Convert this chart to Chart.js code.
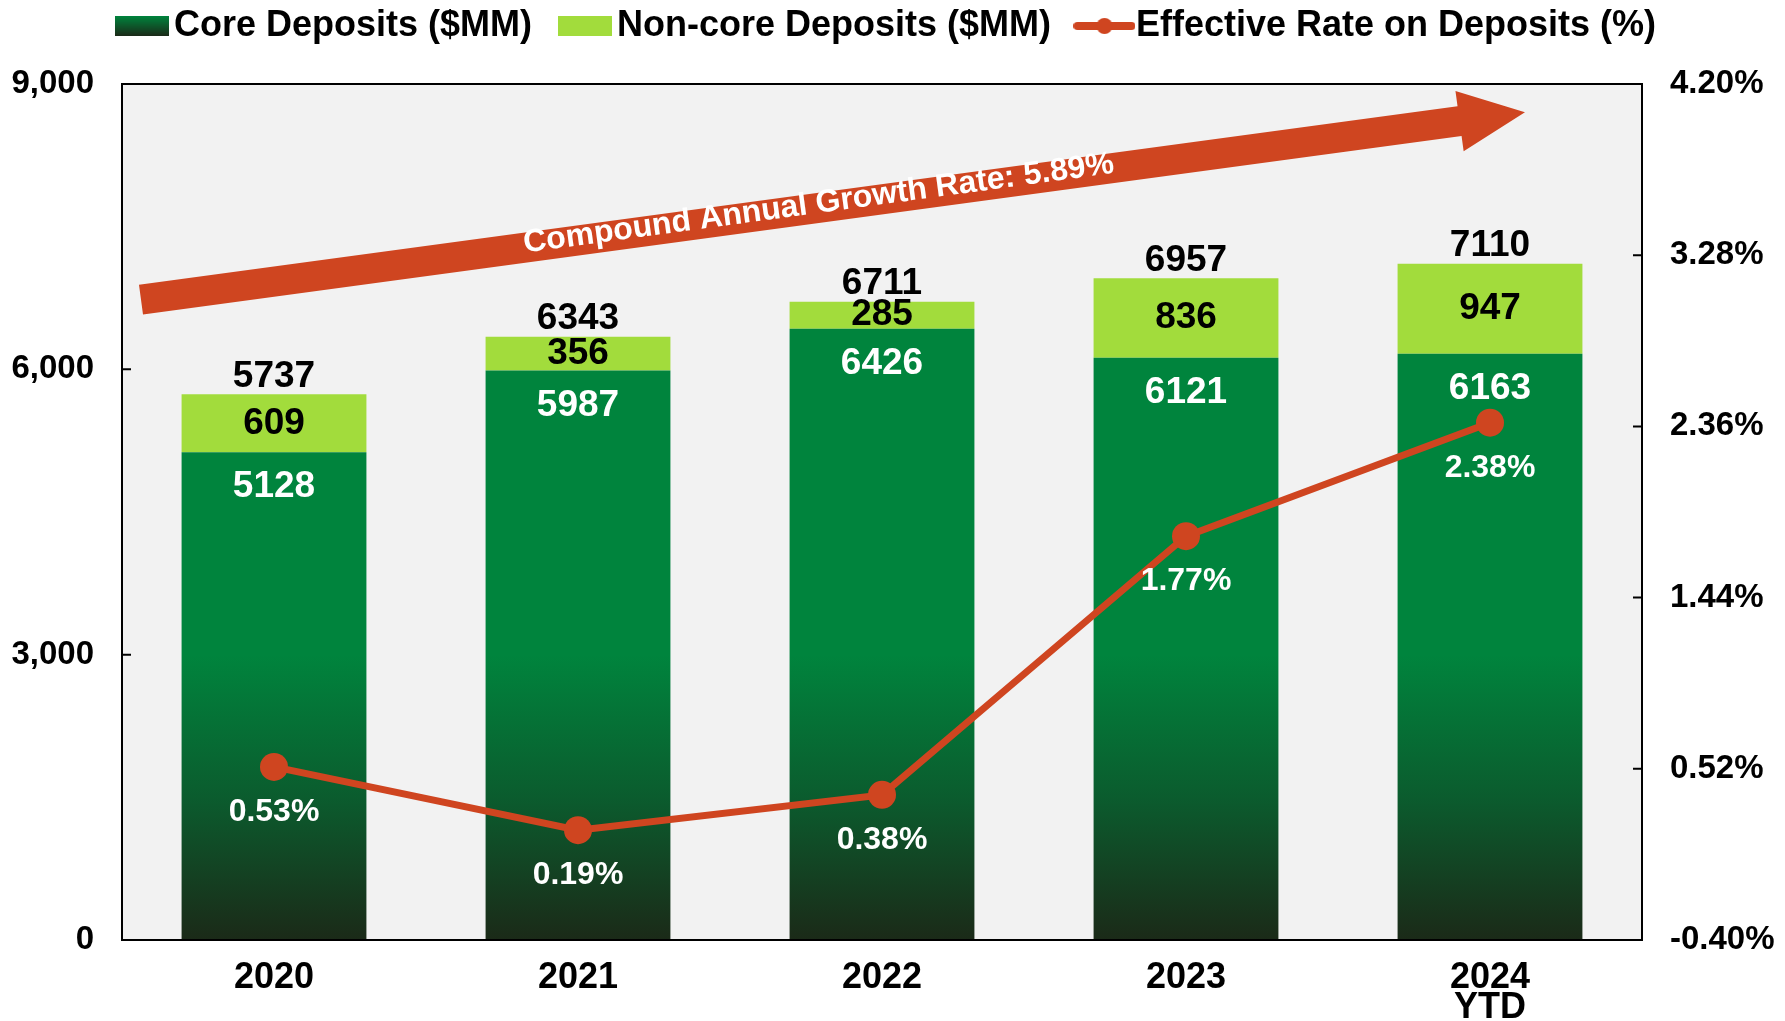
<!DOCTYPE html>
<html>
<head>
<meta charset="utf-8">
<script src="https://cdn.jsdelivr.net/npm/chart.js@4.4.1/dist/chart.umd.min.js"></script>
<style>
    html, body { margin: 0; padding: 0; background: #fff; }
    #wrap { width: 1785px; height: 1021px; }
</style>
</head>
<body>
<div id="wrap"><canvas id="depositChart" width="1785" height="1021"></canvas></div>
<script>
const years = ['2020', '2021', '2022', '2023', ['2024', 'YTD']];
const coreDeposits = [5128, 5987, 6426, 6121, 6163];
const nonCoreDeposits = [609, 356, 285, 836, 947];
const effectiveRate = [0.53, 0.19, 0.38, 1.77, 2.38];
const depositTicks = [0, 3000, 6000, 9000];
const rateTicks = [-0.40, 0.52, 1.44, 2.36, 3.28, 4.20];
const cagrLabel = 'Compound Annual Growth Rate: 5.89%';

const FONT = '"Liberation Sans", Arial, sans-serif';
const GREEN = '#00843D';
const LIGHT_GREEN = '#A2DC3C';
const RED = '#CF4520';

Chart.defaults.font.family = FONT;
Chart.defaults.color = '#000';

// gradient for core bars, solid green down to ~3,000 then fading dark
function coreFill(context) {
    const chart = context.chart;
    const y = chart.scales.y;
    if (!chart.chartArea || !y) return GREEN;
    const g = chart.ctx.createLinearGradient(0, y.getPixelForValue(3000), 0, y.getPixelForValue(0));
    g.addColorStop(0, GREEN);
    g.addColorStop(0.5, '#0B5C2E');
    g.addColorStop(1, '#1B2A18');
    return g;
}

function swatch(w, h, draw) {
    const c = document.createElement('canvas');
    c.width = w;
    c.height = h;
    draw(c.getContext('2d'), w, h);
    return c;
}

const coreSwatch = swatch(54, 20, (ctx, w, h) => {
    const g = ctx.createLinearGradient(0, 0, 0, h);
    g.addColorStop(0, GREEN);
    g.addColorStop(1, '#1B2A18');
    ctx.fillStyle = g;
    ctx.fillRect(0, 0, w, h);
});
const nonCoreSwatch = swatch(54, 20, (ctx, w, h) => {
    ctx.fillStyle = LIGHT_GREEN;
    ctx.fillRect(0, 0, w, h);
});
const rateSwatch = swatch(62, 20, (ctx, w, h) => {
    ctx.strokeStyle = RED;
    ctx.lineWidth = 8;
    ctx.lineCap = 'round';
    ctx.beginPath();
    ctx.moveTo(4, h / 2);
    ctx.lineTo(w - 4, h / 2);
    ctx.stroke();
    ctx.fillStyle = RED;
    ctx.beginPath();
    ctx.arc(w / 2, h / 2, 8, 0, Math.PI * 2);
    ctx.fill();
});

// make the legend box reach exactly down to the plot top
const legendSpace = {
    id: 'legendSpace',
    beforeInit(chart) {
        const fit = chart.legend.fit;
        chart.legend.fit = function () {
            fit.call(this);
            this.height = 116;
        };
    }
};

const plotFrame = {
    id: 'plotFrame',
    beforeDraw(chart) {
        const { ctx, chartArea: a } = chart;
        ctx.save();
        ctx.fillStyle = '#F2F2F2';
        ctx.fillRect(a.left, a.top, a.right - a.left, a.bottom - a.top);
        ctx.restore();
    },
    afterDraw(chart) {
        const { ctx, chartArea: a, scales } = chart;
        ctx.save();
        ctx.strokeStyle = '#000';
        ctx.lineWidth = 2;
        ctx.strokeRect(a.left, a.top, a.right - a.left, a.bottom - a.top);
        // tick marks point inward
        ctx.beginPath();
        scales.y.ticks.forEach(t => {
            const py = scales.y.getPixelForValue(t.value);
            ctx.moveTo(a.left, py);
            ctx.lineTo(a.left + 9, py);
        });
        scales.y1.ticks.forEach(t => {
            const py = scales.y1.getPixelForValue(t.value);
            ctx.moveTo(a.right, py);
            ctx.lineTo(a.right - 9, py);
        });
        ctx.stroke();
        ctx.restore();
    }
};

const growthArrow = {
    id: 'growthArrow',
    beforeDatasetsDraw(chart) {
        const { ctx, chartArea: a } = chart;
        const w = a.right - a.left, h = a.bottom - a.top;
        const x0 = a.left + 0.0125 * w, y0 = a.top + 0.252 * h;
        const x1 = a.left + 0.923 * w, y1 = a.top + 0.033 * h;
        const len = Math.hypot(x1 - x0, y1 - y0);
        const shaft = 30, headLen = 66, headW = 61;

        ctx.save();
        ctx.translate(x0, y0);
        ctx.rotate(Math.atan2(y1 - y0, x1 - x0));
        ctx.fillStyle = RED;
        ctx.beginPath();
        ctx.moveTo(0, -shaft / 2);
        ctx.lineTo(len - headLen, -shaft / 2);
        ctx.lineTo(len - headLen, -headW / 2);
        ctx.lineTo(len, 0);
        ctx.lineTo(len - headLen, headW / 2);
        ctx.lineTo(len - headLen, shaft / 2);
        ctx.lineTo(0, shaft / 2);
        ctx.closePath();
        ctx.fill();

        ctx.fillStyle = '#fff';
        ctx.font = 'bold 32px ' + FONT;
        ctx.textAlign = 'center';
        ctx.textBaseline = 'middle';
        ctx.fillText(cagrLabel, len * 0.49, -4);
        ctx.restore();
    }
};

const valueLabels = {
    id: 'valueLabels',
    afterDatasetsDraw(chart) {
        const { ctx } = chart;
        const core = chart.getDatasetMeta(0).data;
        const nonCore = chart.getDatasetMeta(1).data;
        const rate = chart.getDatasetMeta(2).data;

        ctx.save();
        ctx.textAlign = 'center';
        ctx.textBaseline = 'middle';
        ctx.font = 'bold 37px ' + FONT;
        core.forEach((bar, i) => {
            ctx.fillStyle = '#fff';
            ctx.fillText(String(coreDeposits[i]), bar.x, bar.y + 35);

            const nc = nonCore[i];
            ctx.fillStyle = '#000';
            ctx.fillText(String(nonCoreDeposits[i]), nc.x, (nc.y + nc.base) / 2);
            ctx.fillText(String(coreDeposits[i] + nonCoreDeposits[i]), nc.x, nc.y - 18);
        });

        ctx.font = 'bold 32px ' + FONT;
        ctx.fillStyle = '#fff';
        rate.forEach((pt, i) => {
            ctx.fillText(effectiveRate[i].toFixed(2) + '%', pt.x, pt.y + 45);
        });
        ctx.restore();
    }
};

const tickFont = { family: FONT, size: 33, weight: 'bold' };

new Chart(document.getElementById('depositChart'), {
    type: 'bar',
    data: {
        labels: years,
        datasets: [
            {
                label: 'Core Deposits ($MM)',
                data: coreDeposits,
                backgroundColor: coreFill,
                categoryPercentage: 1,
                barPercentage: 0.608,
                order: 1
            },
            {
                label: 'Non-core Deposits ($MM)',
                data: nonCoreDeposits,
                backgroundColor: LIGHT_GREEN,
                categoryPercentage: 1,
                barPercentage: 0.608,
                order: 1
            },
            {
                type: 'line',
                label: 'Effective Rate on Deposits (%)',
                data: effectiveRate,
                yAxisID: 'y1',
                borderColor: RED,
                borderWidth: 7,
                pointRadius: 14,
                pointHoverRadius: 14,
                pointBackgroundColor: RED,
                pointBorderWidth: 0,
                tension: 0,
                order: 0
            }
        ]
    },
    options: {
        responsive: false,
        animation: false,
        layout: { padding: { top: -32, left: 0, right: 0, bottom: 0 } },
        plugins: {
            tooltip: { enabled: false },
            legend: {
                position: 'top',
                align: 'center',
                labels: {
                    usePointStyle: true,
                    pointStyleWidth: 27,
                    padding: 40,
                    color: '#000',
                    font: { family: FONT, size: 36, weight: 'bold' },
                    generateLabels: () => [
                        { text: 'Core Deposits ($MM)', pointStyle: coreSwatch, fontColor: '#000', datasetIndex: 0, lineWidth: 0 },
                        { text: 'Non-core Deposits ($MM)', pointStyle: nonCoreSwatch, fontColor: '#000', datasetIndex: 1, lineWidth: 0 },
                        { text: 'Effective Rate on Deposits (%)', pointStyle: rateSwatch, fontColor: '#000', datasetIndex: 2, lineWidth: 0 }
                    ]
                }
            }
        },
        scales: {
            x: {
                stacked: true,
                grid: { display: false },
                border: { display: false },
                ticks: {
                    color: '#000',
                    font: { family: FONT, size: 36, weight: 'bold', lineHeight: 0.84 },
                    padding: 15,
                    maxRotation: 0
                },
                afterFit(scale) { scale.height = 81; }
            },
            y: {
                stacked: true,
                min: 0,
                max: 9000,
                afterBuildTicks(scale) { scale.ticks = depositTicks.map(v => ({ value: v })); },
                grid: { display: false },
                border: { display: false },
                ticks: {
                    color: '#000',
                    font: tickFont,
                    padding: 20,
                    callback: v => v.toLocaleString('en-US')
                },
                afterFit(scale) { scale.width = 122; }
            },
            y1: {
                position: 'right',
                min: -0.4,
                max: 4.2,
                afterBuildTicks(scale) { scale.ticks = rateTicks.map(v => ({ value: v })); },
                grid: { display: false },
                border: { display: false },
                ticks: {
                    color: '#000',
                    font: tickFont,
                    padding: 20,
                    callback: v => v.toFixed(2) + '%'
                },
                afterFit(scale) { scale.width = 143; }
            }
        }
    },
    plugins: [legendSpace, plotFrame, growthArrow, valueLabels]
});
</script>
</body>
</html>
